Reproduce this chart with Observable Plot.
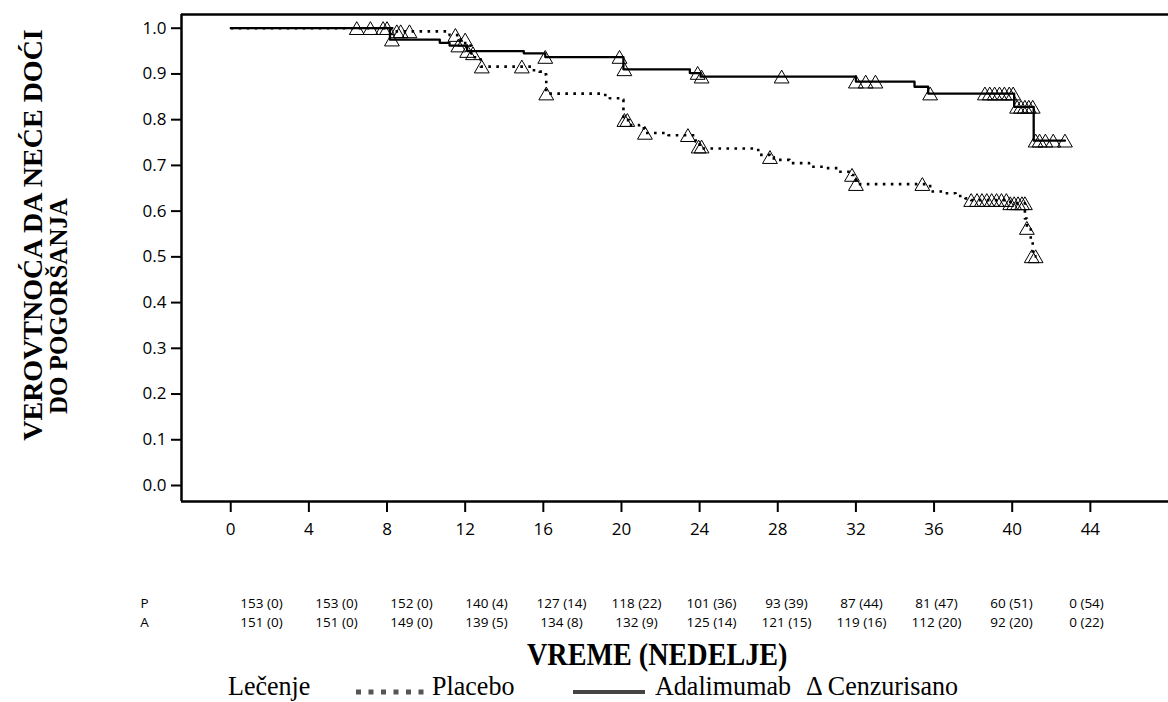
<!DOCTYPE html>
<html><head><meta charset="utf-8">
<script src="https://cdn.jsdelivr.net/npm/d3@7"></script>
<script src="https://cdn.jsdelivr.net/npm/@observablehq/plot@0.6"></script>
<style>
body{margin:0;background:#fff;}
#wrap{position:relative;width:1168px;height:702px;overflow:hidden;background:#fff;}
.abs{position:absolute;white-space:nowrap;line-height:1;}
.serif{font-family:"Liberation Serif","Times New Roman",serif;color:#000;}
</style></head><body><div id="wrap"></div>
<script>
// ---- data ----
const xTicks = [0,4,8,12,16,20,24,28,32,36,40,44];
const yTicks = [0,0.1,0.2,0.3,0.4,0.5,0.6,0.7,0.8,0.9,1.0];

const adaTime = [0, 8.15, 10.7, 11.2, 12.1, 15.0, 16.1, 20.1, 23.5, 24.05, 32.0, 35.0, 35.7, 40.1, 41.1, 42.7];
const adaSurv = [1.0, 0.975, 0.968, 0.962, 0.950, 0.945, 0.937, 0.910, 0.902, 0.894, 0.883, 0.872, 0.857, 0.828, 0.754, 0.754];

const placTime = [0, 8.4, 11.2, 11.7, 12.0, 12.3, 12.5, 12.8, 15.4, 15.8, 16.05, 16.15, 19.0, 19.4, 20.0, 20.1, 20.4, 20.9, 21.2, 22.4, 23.8, 24.0, 24.1, 27.0, 27.6, 27.8, 28.6, 29.6, 30.4, 31.1, 31.8, 32.0, 35.8, 36.5, 37.1, 37.6, 37.9, 39.9, 40.65, 40.75, 40.95, 41.05, 41.25];
const placSurv = [1.0, 0.993, 0.985, 0.975, 0.962, 0.945, 0.932, 0.916, 0.908, 0.905, 0.899, 0.857, 0.854, 0.847, 0.844, 0.799, 0.788, 0.781, 0.771, 0.766, 0.752, 0.741, 0.737, 0.723, 0.718, 0.712, 0.705, 0.697, 0.694, 0.686, 0.679, 0.659, 0.643, 0.639, 0.633, 0.628, 0.624, 0.617, 0.584, 0.563, 0.533, 0.501, 0.501];

const placCensTime = [6.45, 7.15, 7.8, 8.0, 8.5, 8.7, 9.15, 11.5, 12.0, 12.4, 12.85, 14.9, 16.15, 20.15, 20.3, 21.2, 23.4, 23.95, 24.1, 27.6, 31.8, 32.0, 35.4, 37.9, 38.2, 38.45, 38.7, 38.95, 39.2, 39.45, 39.7, 39.9, 40.1, 40.3, 40.5, 40.65, 40.75, 41.0, 41.2];
const placCensSurv = [1, 1, 1, 1, 0.993, 0.993, 0.993, 0.985, 0.975, 0.945, 0.916, 0.916, 0.857, 0.799, 0.799, 0.771, 0.766, 0.741, 0.741, 0.718, 0.679, 0.659, 0.659, 0.624, 0.624, 0.624, 0.624, 0.624, 0.624, 0.624, 0.624, 0.617, 0.617, 0.617, 0.617, 0.617, 0.563, 0.501, 0.501];

const adaCensTime = [8.25, 11.65, 12.1, 16.1, 19.9, 20.15, 23.9, 24.1, 28.2, 32.0, 32.5, 33.0, 35.8, 38.6, 38.85, 39.1, 39.35, 39.6, 39.85, 40.05, 40.25, 40.45, 40.65, 40.85, 41.05, 41.2, 41.4, 41.7, 42.1, 42.7];
const adaCensSurv = [0.975, 0.962, 0.950, 0.937, 0.937, 0.910, 0.902, 0.894, 0.894, 0.883, 0.883, 0.883, 0.857, 0.857, 0.857, 0.857, 0.857, 0.857, 0.857, 0.857, 0.828, 0.828, 0.828, 0.828, 0.828, 0.754, 0.754, 0.754, 0.754, 0.754];

const riskGroups = ["P", "A"];
const riskTimes = [0,4,8,12,16,20,24,28,32,36,40,44];
const riskP = ["153 (0)","153 (0)","152 (0)","140 (4)","127 (14)","118 (22)","101 (36)","93 (39)","87 (44)","81 (47)","60 (51)","0 (54)"];
const riskA = ["151 (0)","151 (0)","149 (0)","139 (5)","134 (8)","132 (9)","125 (14)","121 (15)","119 (16)","112 (20)","92 (20)","0 (22)"];

const yTitle1 = "VEROVTNOĆA DA NEĆE DOĆI";
const yTitle2 = "DO POGORŠANJA";
const xTitle = "VREME (NEDELJE)";
const legendTitle = "Lečenje";
const legendPlacebo = "Placebo";
const legendAda = "Adalimumab";
const legendCens = "Δ Cenzurisano";

// ---- build ----
const zip = (a, b) => a.map((t, i) => ({t, s: b[i]}));
const ada = zip(adaTime, adaSurv);
const plac = zip(placTime, placSurv);
const adaC = zip(adaCensTime, adaCensSurv);
const placC = zip(placCensTime, placCensSurv);

const xDom = [-2.52, 48];
const yDom = [-0.035, 1.03];
const tickFont = '"Open Sans","Noto Sans",sans-serif';

const wrap = document.getElementById("wrap");

const main = Plot.plot({
  width: 1168, height: 562,
  marginLeft: 181, marginRight: 0, marginTop: 14, marginBottom: 61,
  style: {fontFamily: tickFont, fontSize: "17px", color: "#000", background: "transparent", overflow: "visible"},
  x: {domain: xDom},
  y: {domain: yDom},
  marks: [
    Plot.axisX({ticks: xTicks, tickSize: 11, tickPadding: 10, strokeWidth: 2, label: null, fontSize: 17}),
    Plot.axisY({ticks: yTicks, tickSize: 10, tickPadding: 5, strokeWidth: 2, label: null, fontSize: 17, tickFormat: d3.format(".1f")}),
    Plot.ruleY([yDom[1]], {stroke: "#000", strokeWidth: 2.5}),
    Plot.ruleY([yDom[0]], {stroke: "#000", strokeWidth: 2.5}),
    Plot.ruleX([xDom[0]], {stroke: "#000", strokeWidth: 2.5}),
    Plot.line(plac, {x: "t", y: "s", curve: "step-after", stroke: "#000", strokeWidth: 2.6, strokeDasharray: "2.6,5.4", strokeLinecap: "butt"}),
    Plot.line(ada, {x: "t", y: "s", curve: "step-after", stroke: "#000", strokeWidth: 2.3}),
    Plot.dot(placC, {x: "t", y: "s", symbol: "triangle", r: 5.5, dy: 2, stroke: "#000", strokeWidth: 1, fill: "none"}),
    Plot.dot(adaC, {x: "t", y: "s", symbol: "triangle", r: 5.5, dy: 2, stroke: "#000", strokeWidth: 1, fill: "none"})
  ]
});
main.style.position = "absolute";
main.style.left = "0px";
main.style.top = "0px";
wrap.appendChild(main);

// risk table
const riskRows = [
  ...riskTimes.map((t, i) => ({t, g: "P", label: riskP[i]})),
  ...riskTimes.map((t, i) => ({t, g: "A", label: riskA[i]}))
];
const table = Plot.plot({
  width: 1168, height: 60, margin: 0, marginLeft: 144,
  style: {fontFamily: tickFont, fontSize: "13.5px", color: "#000", background: "transparent"},
  x: {type: "point", domain: riskTimes, range: [259, 1087], padding: 0, axis: null},
  y: {type: "point", domain: riskGroups, range: [23, 42], padding: 0, axis: null},
  marks: [
    Plot.text(riskRows, {x: "t", y: "g", text: "label", fontSize: 13.5, textAnchor: "middle", lineAnchor: "middle"}),
    Plot.text(riskGroups, {y: d => d, text: d => d, frameAnchor: "left", textAnchor: "middle", lineAnchor: "middle", fontSize: 13.5})
  ]
});
table.style.position = "absolute";
table.style.left = "0px";
table.style.top = "580px";
wrap.appendChild(table);

// y title
const ns = "http://www.w3.org/2000/svg";
const ySvg = document.createElementNS(ns, "svg");
ySvg.setAttribute("width", 100); ySvg.setAttribute("height", 500);
ySvg.style.position = "absolute"; ySvg.style.left = "0px"; ySvg.style.top = "0px";
[[yTitle1, 42, 235, 28], [yTitle2, 67, 306, 25]].forEach(([txt, x, y, fs]) => {
  const t = document.createElementNS(ns, "text");
  t.setAttribute("transform", `translate(${x},${y}) rotate(-90)`);
  t.setAttribute("text-anchor", "middle");
  t.setAttribute("font-family", '"Liberation Serif","Times New Roman",serif');
  t.setAttribute("font-weight", "bold");
  t.setAttribute("font-size", fs);
  t.textContent = txt;
  ySvg.appendChild(t);
});
wrap.appendChild(ySvg);

// x title
const xt = document.createElement("div");
xt.className = "abs serif";
xt.textContent = xTitle;
xt.style.cssText += "left:527px;top:638px;font-size:32px;font-weight:bold;transform:scaleX(0.88);transform-origin:left top;";
wrap.appendChild(xt);

// legend
function addText(txt, left) {
  const d = document.createElement("div");
  d.className = "abs serif";
  d.textContent = txt;
  d.style.cssText += `left:${left}px;top:672px;font-size:28px;transform:scaleX(0.93);transform-origin:left top;`;
  wrap.appendChild(d);
}
addText(legendTitle, 228);
addText(legendPlacebo, 432);
addText(legendAda, 655);
addText(legendCens, 806);

const lg = document.createElementNS(ns, "svg");
lg.setAttribute("width", 1168); lg.setAttribute("height", 30);
lg.style.position = "absolute"; lg.style.left = "0px"; lg.style.top = "676px";
const dl = document.createElementNS(ns, "line");
dl.setAttribute("x1", 356); dl.setAttribute("x2", 426); dl.setAttribute("y1", 16); dl.setAttribute("y2", 16);
dl.setAttribute("stroke", "#555"); dl.setAttribute("stroke-width", 5); dl.setAttribute("stroke-dasharray", "5,7.5");
lg.appendChild(dl);
const sl = document.createElementNS(ns, "line");
sl.setAttribute("x1", 573); sl.setAttribute("x2", 645); sl.setAttribute("y1", 16); sl.setAttribute("y2", 16);
sl.setAttribute("stroke", "#444"); sl.setAttribute("stroke-width", 4);
lg.appendChild(sl);
wrap.appendChild(lg);
</script>
</body></html>
